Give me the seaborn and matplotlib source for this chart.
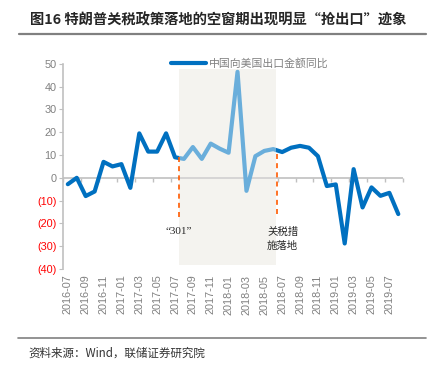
import matplotlib
matplotlib.use("Agg")
import matplotlib.pyplot as plt
from matplotlib.patches import Rectangle
from matplotlib.lines import Line2D
import seaborn as sns
import pandas as pd
import numpy as np

# monthly China->US export value, yoy %
months = ['2016-07', '2016-08', '2016-09', '2016-10', '2016-11', '2016-12',
          '2017-01', '2017-02', '2017-03', '2017-04', '2017-05', '2017-06',
          '2017-07', '2017-08', '2017-09', '2017-10', '2017-11', '2017-12',
          '2018-01', '2018-02', '2018-03', '2018-04', '2018-05', '2018-06',
          '2018-07', '2018-08', '2018-09', '2018-10', '2018-11', '2018-12',
          '2019-01', '2019-02', '2019-03', '2019-04', '2019-05', '2019-06',
          '2019-07', '2019-08']
export_yoy = [-2.8, 0.0, -8.0, -6.0, 7.0, 5.0,
              6.0, -4.4, 19.5, 11.5, 11.5, 19.5,
              9.0, 8.3, 13.5, 8.3, 15.0, 12.8,
              11.0, 46.5, -5.7, 9.5, 11.8, 12.6,
              11.3, 13.2, 14.0, 13.2, 9.5, -3.6,
              -2.9, -28.8, 3.8, -13.0, -4.2, -7.9,
              -6.6, -15.9]
series_name = '中国向美国出口金额同比'
title = '图16 特朗普关税政策落地的空窗期出现明显“抢出口”迹象'
source = '资料来源：Wind，联储证券研究院'

# window between "301" and tariffs landing (category positions)
window_start, window_end = 12.45, 23.3
window_low, window_high = -38.3, 47.8
mark_301 = (12.4, 9.0, -17.0)
mark_tariff = (23.4, 12.0, -16.0)

df = pd.DataFrame({'i': np.arange(len(months)), 'month': months, 'yoy': export_yoy})

DARK = '#0070c0'
LIGHT = '#6aaedb'
SHADE = '#f4f3ef'
GRAY = '#808080'
AXIS = '#c0c0c0'

sns.set_style('white')
plt.rcParams['font.family'] = ['Liberation Sans', 'Noto Sans CJK SC']

fig = plt.figure(figsize=(4.34, 3.69), dpi=100)
ax = fig.add_axes([0.146, 0.271, 0.782, 0.556])

def window_rect(z):
    return Rectangle((window_start, window_low), window_end - window_start,
                     window_high - window_low, facecolor=SHADE, edgecolor='none', zorder=z)

ax.add_patch(window_rect(0))
ax.axhline(0, color=AXIS, lw=1.2, zorder=1)

sns.lineplot(data=df, x='i', y='yoy', color=DARK, lw=3, ax=ax, zorder=3,
             solid_joinstyle='round')
# cover the dark line inside the window, then redraw it light
ax.add_patch(window_rect(3.5))
ax.hlines(0, window_start, window_end, color='#d0d0d0', lw=1.2, zorder=3.6)
clip = window_rect(0)
ax.add_patch(clip)
sns.lineplot(data=df, x='i', y='yoy', color=LIGHT, lw=3, ax=ax, zorder=4,
             solid_joinstyle='round')
ax.lines[-1].set_clip_path(clip)

for x, top, bot in (mark_301, mark_tariff):
    ax.vlines(x, bot, top, colors='#ff5a00', linestyles=(0, (3, 2.5)), lw=1.2, zorder=5)

ax.set_xlim(-0.5, len(months) - 0.5)
ax.set_ylim(-40, 50)
ax.set_xlabel('')
ax.set_ylabel('')

# category labels every 2 months, at the bottom
ax.set_xticks(df['i'][::2])
ax.set_xticklabels(df['month'][::2], rotation=90, fontsize=7.8, color=GRAY)
ax.tick_params(axis='x', length=0, pad=4)

# tick marks sit on the zero line
zax = ax.secondary_xaxis(0, transform=ax.transData)
zax.set_xticks(np.arange(-0.5, len(months), 2))
zax.set_xticklabels([])
zax.tick_params(axis='x', direction='out', length=3, color=AXIS, width=1)
zax.spines['bottom'].set_visible(False)

yticks = np.arange(-40, 51, 10)
ax.set_yticks(yticks)
ax.set_yticklabels([f'({abs(v)})' if v < 0 else f'{v}' for v in yticks], fontsize=7.8)
for lab, v in zip(ax.get_yticklabels(), yticks):
    lab.set_color('#ff0000' if v < 0 else GRAY)
ax.tick_params(axis='y', left=True, direction='out', length=3, color=AXIS, pad=2)

for s in ['top', 'right', 'bottom']:
    ax.spines[s].set_visible(False)
ax.spines['left'].set_color(AXIS)
ax.spines['left'].set_linewidth(1.2)

ax.text(mark_301[0], -21.5, '“301”', ha='center', va='top', fontsize=8, zorder=6,
        family=['Liberation Serif', 'Noto Sans CJK SC'])
ax.text(22.3, -21.5, '关税措\n施落地', ha='left', va='top', fontsize=7.5, zorder=6,
        linespacing=1.5, family=['Noto Sans CJK SC'])

handle = Line2D([], [], color=DARK, lw=3)
ax.legend([handle], [series_name], loc='center', bbox_to_anchor=(0.55, 1.0),
          frameon=False, handlelength=3.2, handletextpad=0.3,
          labelcolor=GRAY, prop={'family': 'Noto Sans CJK SC', 'size': 7.8})

fig.text(0.069, 0.945, title, fontsize=10.3, fontweight='bold', va='center',
         family=['Noto Sans CJK SC'])
fig.add_artist(Line2D([0.044, 0.982], [0.909, 0.909], color=GRAY, lw=1.6))
fig.add_artist(Line2D([0.041, 0.982], [0.084, 0.084], color=GRAY, lw=1.2))
fig.text(0.065, 0.044, source, fontsize=8.3, va='center', color='#333333',
         family=['Noto Sans CJK SC'])

fig.savefig('out.png', dpi=100)
